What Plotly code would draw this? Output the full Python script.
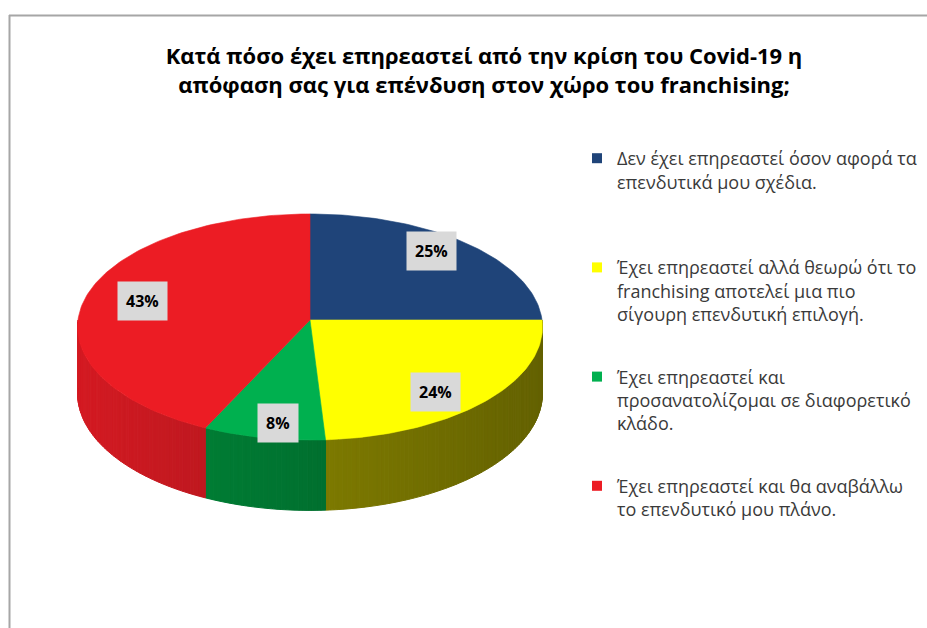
import numpy as np
import plotly.graph_objects as go

# ---------------- data ----------------
title_lines = ["Κατά πόσο έχει επηρεαστεί από την κρίση του Covid-19 η",
               "απόφαση σας για επένδυση στον χώρο του franchising;"]
categories = [
    "Δεν έχει επηρεαστεί όσον αφορά τα<br>επενδυτικά μου σχέδια.<br> ",
    "Έχει επηρεαστεί αλλά θεωρώ ότι το<br>franchising αποτελεί μια πιο<br>σίγουρη επενδυτική επιλογή.",
    "Έχει επηρεαστεί και<br>προσανατολίζομαι σε διαφορετικό<br>κλάδο.",
    "Έχει επηρεαστεί και θα αναβάλλω<br>το επενδυτικό μου πλάνο.",
]
values = [25, 24, 8, 43]
pct_labels = ["25%", "24%", "8%", "43%"]

# ---------------- style ----------------
top_colors = ["#1f4479", "#ffff00", "#00b04f", "#ec1c24"]
side_colors = ["#1a3466", "#9a9600", "#008a3a", "#d41b23"]

W, H = 927, 628
cx, cy, rx, ry, depth, persp = 310, 320, 232, 112.6, 66, 0.062


def ell(t_deg, dy=0.0):
    t = np.radians(t_deg)
    d = 1.0 + persp * np.cos(t)
    return cx + rx * np.sin(t) / d, cy - ry * np.cos(t) / d + dy / d


def shade(hex_color, f):
    h = hex_color.lstrip("#")
    r, g, b = (int(h[i:i + 2], 16) for i in (0, 2, 4))
    return "rgb({},{},{})".format(int(r * f), int(g * f), int(b * f))


total = float(sum(values))
starts = np.concatenate([[0.0], np.cumsum(values)[:-1]]) / total * 360.0
ends = np.cumsum(values) / total * 360.0

fig = go.Figure()

# side walls (front half only, t in [90, 270])
for i in range(len(values)):
    a, b = max(starts[i], 90.0), min(ends[i], 270.0)
    if a >= b:
        continue
    n = max(2, int((b - a) / 1.0))
    edges = np.linspace(a, b, n + 1)
    for k in range(n):
        ts = np.linspace(edges[k], edges[k + 1], 3)
        xt, yt = ell(ts)
        xb, yb = ell(ts[::-1], depth)
        xm = float(np.mean(xt))
        f = 1.0 - 0.35 * (xm - (cx - rx)) / (2 * rx)
        col = shade(side_colors[i], f)
        fig.add_trace(go.Scatter(
            x=np.concatenate([xt, xb, xt[:1]]), y=np.concatenate([yt, yb, yt[:1]]),
            mode="lines", fill="toself", fillcolor=col,
            line=dict(color=col, width=1), hoverinfo="skip", showlegend=False))

# top faces
for i in range(len(values)):
    ts = np.linspace(starts[i], ends[i], max(8, int(values[i] * 3)))
    xt, yt = ell(ts)
    xs = np.concatenate([[cx], xt, [cx]])
    ys = np.concatenate([[cy], yt, [cy]])
    fig.add_trace(go.Scatter(
        x=xs, y=ys, mode="lines", fill="toself", fillcolor=top_colors[i],
        line=dict(color=top_colors[i], width=0.6), hoverinfo="skip",
        showlegend=False, name=pct_labels[i]))

# legend entries
for i in range(len(values)):
    fig.add_trace(go.Scatter(
        x=[None], y=[None], mode="markers", name=categories[i],
        legendgroup="g%d" % i,
        marker=dict(symbol="square", size=10, color=top_colors[i])))

# percentage labels
for i in range(len(values)):
    mid = np.radians((starts[i] + ends[i]) / 2.0)
    lx = cx + 0.74 * rx * np.sin(mid)
    ly = cy + 3 - 0.9 * ry * np.cos(mid)
    fig.add_annotation(x=lx, y=ly, xref="x", yref="y", text="<b>%s</b>" % pct_labels[i],
                       showarrow=False, bgcolor="#d9d9d9", borderpad=8,
                       font=dict(family="Open Sans", size=16, color="#000000"))

# frame lines
fig.add_shape(type="line", xref="paper", yref="paper", x0=9 / W, x1=1, y0=1 - 15.5 / H, y1=1 - 15.5 / H,
              line=dict(color="#a6a6a6", width=2))
fig.add_shape(type="line", xref="paper", yref="paper", x0=9.5 / W, x1=9.5 / W, y0=0, y1=1 - 15 / H,
              line=dict(color="#a6a6a6", width=2))

fig.update_layout(
    width=W, height=H,
    margin=dict(l=0, r=0, t=0, b=0),
    paper_bgcolor="white", plot_bgcolor="white",
    title=dict(text="<b>" + title_lines[0] + "<br>" + title_lines[1] + "</b>",
               x=484 / W, xanchor="center", y=1 - 64 / H, yanchor="middle",
               font=dict(family="Open Sans", size=22, color="#000000")),
    xaxis=dict(range=[0, W], visible=False, fixedrange=True),
    yaxis=dict(range=[H, 0], visible=False, fixedrange=True),
    showlegend=True,
    legend=dict(x=577 / W, xanchor="left", y=1 - 140 / H, yanchor="top",
                valign="top", tracegroupgap=36, bgcolor="rgba(0,0,0,0)",
                borderwidth=0, entrywidth=330,
                font=dict(family="Open Sans", size=18, color="#3a3a3a")),
)

fig.write_html("out.html", config={"displayModeBar": False},
               post_script=("document.body.style.margin='0px';"
                            "document.body.style.overflow='hidden';"
                            "document.documentElement.style.overflow='hidden';"
                            "var sb=document.querySelectorAll('.scrollbar');"
                            "sb.forEach(function(e){e.style.display='none';});"))
